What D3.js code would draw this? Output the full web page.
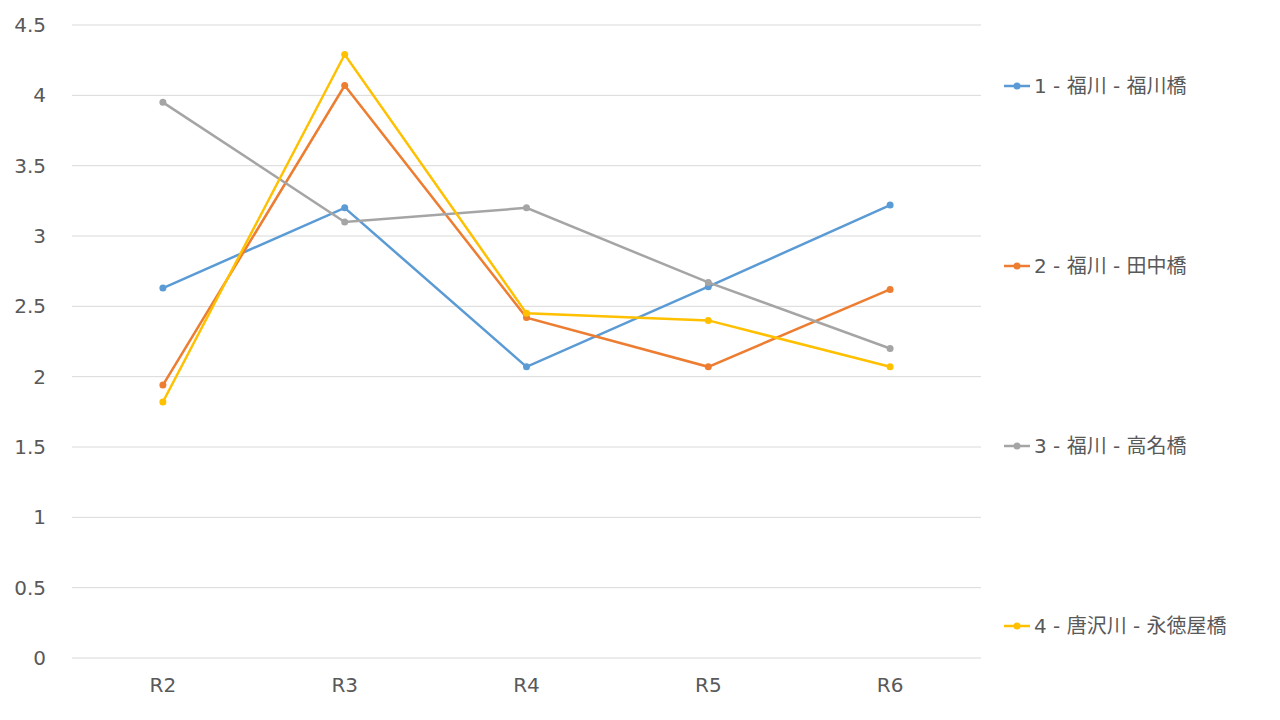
<!DOCTYPE html>
<html><head><meta charset="utf-8">
<script src="https://cdn.jsdelivr.net/npm/d3@7"></script>
<style>body{margin:0;background:#fff;font-family:"DejaVu Sans","Noto Sans CJK JP",sans-serif;}</style>
</head><body><svg id="c" width="1280" height="720"></svg>
<script>
const categories = ["R2", "R3", "R4", "R5", "R6"];
const seriesNames = ["1 - 福川 - 福川橋", "2 - 福川 - 田中橋", "3 - 福川 - 高名橋", "4 - 唐沢川 - 永徳屋橋"];
const seriesColors = ["#5B9BD5", "#ED7D31", "#A5A5A5", "#FFC000"];
const s1 = [2.63, 3.2, 2.07, 2.64, 3.22];
const s2 = [1.94, 4.07, 2.42, 2.07, 2.62];
const s3 = [3.95, 3.1, 3.2, 2.67, 2.2];
const s4 = [1.82, 4.29, 2.45, 2.4, 2.07];
const yTicks = [0, 0.5, 1, 1.5, 2, 2.5, 3, 3.5, 4, 4.5];
const legendY = [86, 266, 446, 626];

const svg = d3.select("#c").style("font-family", '"DejaVu Sans","Noto Sans CJK JP",sans-serif');
const x = d3.scaleBand().domain(categories).range([72, 981]);
const y = d3.scaleLinear().domain([0, 4.5]).range([658, 25]);

svg.append("g").selectAll("line").data(yTicks).join("line")
  .attr("x1", 72).attr("x2", 981)
  .attr("y1", d => y(d)).attr("y2", d => y(d))
  .attr("stroke", "#d9d9d9").attr("stroke-width", 1);

svg.append("g").selectAll("text").data(yTicks).join("text")
  .attr("x", 46).attr("y", d => y(d)).attr("dy", "0.35em")
  .attr("text-anchor", "end").attr("font-size", 20).attr("fill", "#595959")
  .text(d => d);

svg.append("g").selectAll("text").data(categories).join("text")
  .attr("x", d => x(d) + x.bandwidth() / 2).attr("y", 692)
  .attr("text-anchor", "middle").attr("font-size", 20).attr("fill", "#595959")
  .text(d => d);

const line = d3.line().x((d, i) => x(categories[i]) + x.bandwidth() / 2).y(d => y(d));
[s1, s2, s3, s4].forEach((s, k) => {
  const g = svg.append("g");
  g.append("path").datum(s).attr("d", line).attr("fill", "none")
    .attr("stroke", seriesColors[k]).attr("stroke-width", 2.5);
  g.selectAll("circle").data(s).join("circle")
    .attr("cx", (d, i) => x(categories[i]) + x.bandwidth() / 2).attr("cy", d => y(d))
    .attr("r", 3.5).attr("fill", seriesColors[k]);
  const lg = svg.append("g").attr("transform", `translate(0,${legendY[k]})`);
  lg.append("line").attr("x1", 1004).attr("x2", 1030).attr("stroke", seriesColors[k]).attr("stroke-width", 2.5);
  lg.append("circle").attr("cx", 1017).attr("r", 3.5).attr("fill", seriesColors[k]);
  lg.append("text").attr("x", 1034).attr("dy", "0.35em").attr("font-size", 20)
    .attr("fill", "#595959").text(seriesNames[k]);
});
</script></body></html>
